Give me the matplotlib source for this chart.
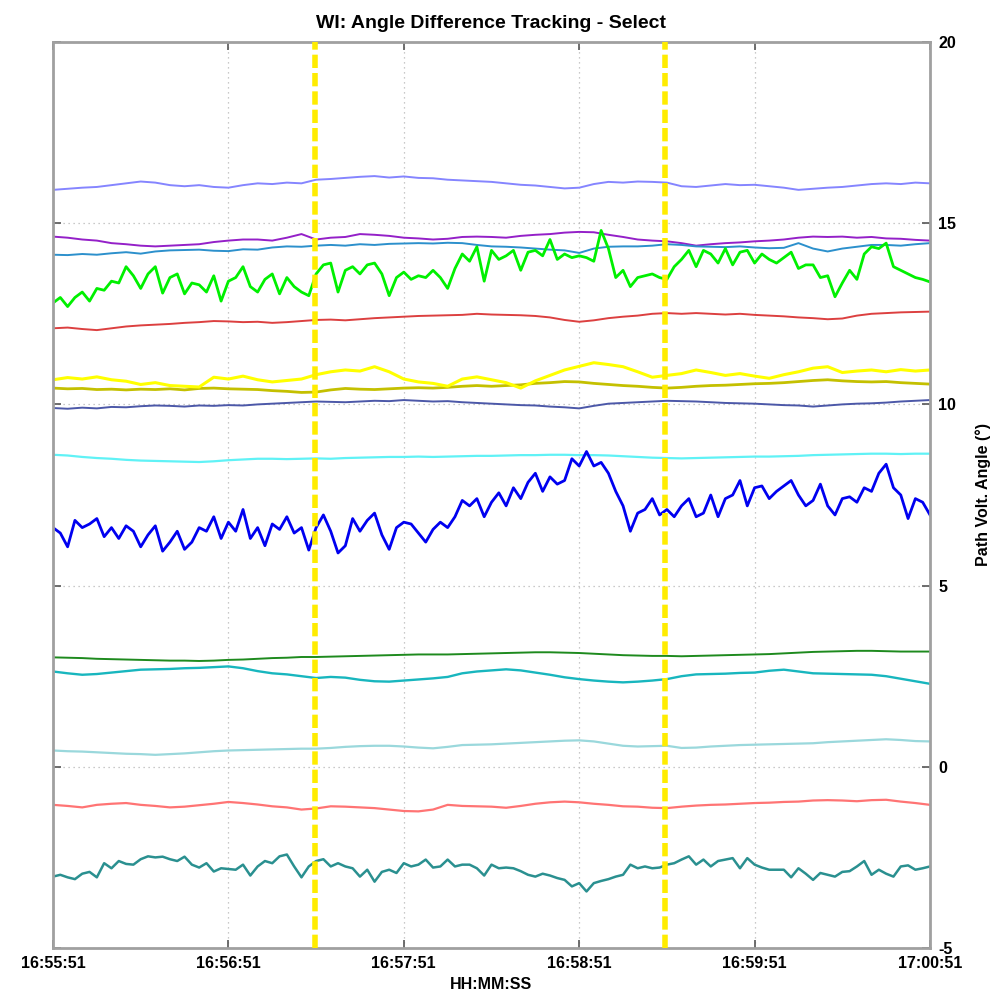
import matplotlib
matplotlib.use("Agg")
import numpy as np
import matplotlib.pyplot as plt
from matplotlib.ticker import FuncFormatter, MultipleLocator

plt.rcParams['font.family'] = ['Liberation Sans', 'DejaVu Sans']
plt.rcParams['axes.unicode_minus'] = False

# seconds after 16:55:51
t_start = 16 * 3600 + 55 * 60 + 51
t_coarse = np.arange(0, 301, 5)      # 5 s sampling
t_fine = np.arange(0, 300.1, 2.5)    # 2.5 s sampling
marker_times = [89.5, 209.5]

periwinkle = [15.92, 15.95, 15.98, 16.0, 16.05, 16.1, 16.15, 16.12, 16.05, 16.02, 16.05, 16.0, 15.98, 16.05, 16.1,
              16.08, 16.12, 16.1, 16.2, 16.22, 16.25, 16.28, 16.3, 16.26, 16.29, 16.25, 16.24, 16.2, 16.18, 16.16,
              16.14, 16.1, 16.06, 16.04, 16.0, 15.96, 15.98, 16.08, 16.14, 16.12, 16.15, 16.14, 16.12, 16.02, 16.0,
              16.04, 16.08, 16.05, 16.06, 16.02, 15.98, 15.92, 15.95, 15.98, 16.0, 16.04, 16.08, 16.1, 16.08, 16.12, 16.1]
purple = [14.63, 14.6, 14.55, 14.52, 14.45, 14.42, 14.38, 14.36, 14.38, 14.4, 14.42, 14.48, 14.52, 14.55, 14.55,
          14.52, 14.6, 14.7, 14.55, 14.6, 14.62, 14.7, 14.68, 14.65, 14.6, 14.58, 14.55, 14.57, 14.62, 14.63,
          14.62, 14.6, 14.65, 14.68, 14.7, 14.74, 14.76, 14.75, 14.68, 14.62, 14.55, 14.52, 14.5, 14.45, 14.38,
          14.42, 14.45, 14.47, 14.5, 14.52, 14.55, 14.6, 14.63, 14.62, 14.63, 14.6, 14.62, 14.58, 14.57, 14.54, 14.52]
steel = [14.13, 14.12, 14.15, 14.13, 14.17, 14.2, 14.16, 14.22, 14.25, 14.26, 14.27, 14.24, 14.23, 14.28, 14.27,
         14.33, 14.36, 14.35, 14.38, 14.4, 14.38, 14.42, 14.4, 14.43, 14.44, 14.45, 14.44, 14.46, 14.45, 14.4,
         14.36, 14.35, 14.33, 14.3, 14.27, 14.25, 14.18, 14.3, 14.35, 14.36, 14.36, 14.38, 14.42, 14.4, 14.36,
         14.35, 14.34, 14.36, 14.33, 14.31, 14.32, 14.45, 14.3, 14.22, 14.3, 14.35, 14.4, 14.4, 14.38, 14.42, 14.45]
green = [12.8, 12.95, 12.7, 12.95, 13.1, 12.85, 13.2, 13.15, 13.4, 13.35, 13.8, 13.55, 13.2, 13.6, 13.8,
         13.07, 13.5, 13.6, 13.05, 13.35, 13.3, 13.1, 13.55, 12.85, 13.4, 13.5, 13.8, 13.25, 13.1, 13.45,
         13.6, 13.05, 13.5, 13.25, 13.1, 13.0, 13.6, 13.85, 13.9, 13.1, 13.7, 13.8, 13.6, 13.85, 13.9,
         13.6, 13.0, 13.5, 13.65, 13.45, 13.55, 13.5, 13.7, 13.5, 13.2, 13.75, 14.15, 13.95, 14.35, 13.4,
         14.25, 14.0, 14.1, 14.25, 13.7, 14.2, 14.25, 14.1, 14.55, 14.0, 14.15, 14.05, 14.1, 14.05, 13.95,
         14.8, 14.3, 13.5, 13.7, 13.25, 13.5, 13.55, 13.6, 13.5, 13.45, 13.8, 14.0, 14.25, 13.8, 14.25,
         14.15, 13.9, 14.3, 13.85, 14.2, 14.25, 13.9, 14.15, 14.0, 13.9, 14.05, 14.2, 13.75, 13.85, 13.85,
         13.5, 13.55, 12.97, 13.35, 13.7, 13.45, 14.15, 14.35, 14.3, 14.45, 13.8, 13.7, 13.6, 13.5, 13.45, 13.38]
red = [12.1, 12.12, 12.08, 12.05, 12.1, 12.15, 12.18, 12.2, 12.22, 12.25, 12.27, 12.3, 12.29, 12.27, 12.28,
       12.25, 12.27, 12.3, 12.33, 12.34, 12.32, 12.35, 12.38, 12.4, 12.42, 12.44, 12.45, 12.46, 12.47, 12.5,
       12.48, 12.47, 12.46, 12.44, 12.4, 12.33, 12.28, 12.32, 12.38, 12.42, 12.45, 12.5, 12.52, 12.5, 12.52,
       12.5, 12.48, 12.5, 12.47, 12.45, 12.43, 12.4, 12.38, 12.35, 12.37, 12.45, 12.5, 12.52, 12.54, 12.55, 12.56]
yellow = [10.68, 10.74, 10.7, 10.76, 10.68, 10.64, 10.55, 10.6, 10.52, 10.5, 10.48, 10.75, 10.7, 10.78, 10.68,
          10.62, 10.66, 10.7, 10.82, 10.9, 10.95, 10.92, 11.04, 10.9, 10.7, 10.62, 10.58, 10.5, 10.7, 10.76,
          10.68, 10.6, 10.45, 10.65, 10.8, 10.95, 11.05, 11.15, 11.1, 11.04, 10.9, 10.75, 10.8, 10.85, 10.95,
          10.88, 10.8, 10.85, 10.78, 10.72, 10.82, 10.9, 11.0, 11.04, 10.88, 10.92, 10.95, 10.9, 10.96, 10.92, 10.95]
olive = [10.45, 10.43, 10.44, 10.41, 10.42, 10.4, 10.42, 10.41, 10.43, 10.4, 10.44, 10.45, 10.43, 10.42, 10.41,
         10.38, 10.36, 10.33, 10.34, 10.4, 10.44, 10.42, 10.41, 10.43, 10.45, 10.46, 10.45, 10.47, 10.5, 10.52,
         10.5, 10.52, 10.54, 10.58, 10.6, 10.63, 10.62, 10.58, 10.55, 10.52, 10.5, 10.47, 10.45, 10.47, 10.5,
         10.52, 10.53, 10.55, 10.57, 10.58, 10.6, 10.63, 10.66, 10.68, 10.65, 10.63, 10.62, 10.63, 10.6, 10.58, 10.56]
slate = [9.9, 9.88, 9.91, 9.89, 9.93, 9.92, 9.95, 9.97, 9.96, 9.94, 9.97, 9.96, 9.98, 9.97, 10.0,
         10.02, 10.04, 10.06, 10.08, 10.07, 10.06, 10.08, 10.1, 10.09, 10.12, 10.1, 10.08, 10.09, 10.06, 10.04,
         10.02, 10.0, 9.98, 9.97, 9.94, 9.92, 9.89, 9.96, 10.02, 10.04, 10.06, 10.08, 10.1, 10.09, 10.08,
         10.06, 10.04, 10.03, 10.02, 10.0, 9.98, 9.97, 9.94, 9.97, 10.0, 10.02, 10.03, 10.05, 10.08, 10.1, 10.12]
cyan = [8.61, 8.59, 8.55, 8.52, 8.5, 8.47, 8.45, 8.44, 8.43, 8.42, 8.41, 8.43, 8.46, 8.48, 8.5,
        8.5, 8.49, 8.5, 8.51, 8.5, 8.52, 8.53, 8.54, 8.55, 8.55, 8.56, 8.55, 8.56, 8.57, 8.58,
        8.58, 8.59, 8.6, 8.6, 8.61, 8.61, 8.6, 8.6, 8.59, 8.57, 8.55, 8.53, 8.52, 8.51, 8.52,
        8.53, 8.54, 8.55, 8.56, 8.56, 8.57, 8.58, 8.6, 8.61, 8.62, 8.63, 8.64, 8.64, 8.63, 8.64, 8.64]
blue = [6.6, 6.45, 6.07, 6.8, 6.6, 6.7, 6.85, 6.35, 6.6, 6.3, 6.65, 6.5, 6.07, 6.4, 6.65,
        5.95, 6.2, 6.5, 6.0, 6.2, 6.6, 6.5, 6.9, 6.3, 6.75, 6.5, 7.1, 6.3, 6.6, 6.1,
        6.7, 6.55, 6.9, 6.45, 6.6, 5.98, 6.6, 6.95, 6.5, 5.9, 6.1, 6.85, 6.5, 6.8, 7.0,
        6.4, 6.0, 6.6, 6.75, 6.7, 6.45, 6.2, 6.55, 6.75, 6.6, 6.9, 7.35, 7.2, 7.4, 6.9,
        7.3, 7.56, 7.2, 7.7, 7.4, 7.85, 8.1, 7.6, 8.0, 7.8, 7.9, 8.5, 8.3, 8.7, 8.3,
        8.4, 8.1, 7.6, 7.2, 6.5, 7.0, 7.1, 7.4, 6.95, 7.1, 6.9, 7.2, 7.4, 6.9, 7.0,
        7.5, 6.9, 7.4, 7.5, 7.9, 7.2, 7.7, 7.75, 7.4, 7.6, 7.75, 7.9, 7.5, 7.2, 7.35,
        7.8, 7.2, 6.95, 7.4, 7.45, 7.3, 7.7, 7.6, 8.1, 8.35, 7.7, 7.5, 6.85, 7.4, 7.3, 6.95]
dark_green = [3.02, 3.01, 3.0, 2.98, 2.97, 2.96, 2.95, 2.94, 2.93, 2.93, 2.92, 2.93, 2.95, 2.96, 2.98,
              3.0, 3.01, 3.03, 3.03, 3.04, 3.05, 3.06, 3.07, 3.08, 3.09, 3.1, 3.1, 3.1, 3.11, 3.12,
              3.13, 3.14, 3.15, 3.16, 3.16, 3.15, 3.14, 3.12, 3.1, 3.08, 3.07, 3.06, 3.06, 3.05, 3.06,
              3.07, 3.08, 3.09, 3.1, 3.11, 3.13, 3.15, 3.17, 3.18, 3.19, 3.2, 3.2, 3.19, 3.18, 3.18, 3.18]
teal = [2.63, 2.58, 2.54, 2.56, 2.6, 2.64, 2.68, 2.69, 2.7, 2.72, 2.73, 2.75, 2.77, 2.72, 2.64,
        2.58, 2.55, 2.5, 2.45, 2.48, 2.46, 2.4, 2.36, 2.35, 2.38, 2.41, 2.44, 2.48, 2.58, 2.63,
        2.66, 2.69, 2.66, 2.6, 2.54, 2.47, 2.42, 2.38, 2.35, 2.33, 2.35, 2.38, 2.42, 2.5, 2.55,
        2.56, 2.57, 2.59, 2.6, 2.65, 2.68, 2.63, 2.58, 2.57, 2.56, 2.55, 2.54, 2.5, 2.43, 2.36, 2.29]
pale_cyan = [0.45, 0.43, 0.42, 0.4, 0.38, 0.36, 0.35, 0.33, 0.35, 0.37, 0.4, 0.43, 0.45, 0.46, 0.47,
             0.48, 0.49, 0.5, 0.5, 0.52, 0.55, 0.57, 0.58, 0.58, 0.56, 0.53, 0.51, 0.55, 0.6, 0.61,
             0.62, 0.64, 0.66, 0.68, 0.7, 0.72, 0.73, 0.7, 0.64, 0.58, 0.56, 0.57, 0.58, 0.52, 0.53,
             0.56, 0.58, 0.6, 0.61, 0.62, 0.63, 0.64, 0.65, 0.68, 0.7, 0.72, 0.74, 0.76, 0.74, 0.71, 0.7]
salmon = [-1.05, -1.08, -1.12, -1.05, -1.02, -1.0, -1.05, -1.08, -1.12, -1.1, -1.06, -1.02, -0.97, -1.0, -1.04,
          -1.09, -1.12, -1.18, -1.15, -1.09, -1.1, -1.12, -1.14, -1.18, -1.22, -1.23, -1.18, -1.05, -1.08, -1.09,
          -1.1, -1.13, -1.08, -1.02, -0.98, -0.96, -0.98, -1.02, -1.05, -1.09, -1.1, -1.13, -1.14, -1.1, -1.07,
          -1.05, -1.04, -1.02, -1.0, -0.99, -0.97, -0.96, -0.93, -0.92, -0.93, -0.95, -0.92, -0.91, -0.96, -1.0, -1.05]
dark_teal = [-3.03, -2.98, -3.05, -3.1, -2.95, -2.9, -3.05, -2.66, -2.8, -2.6, -2.68, -2.7, -2.55, -2.47, -2.5,
             -2.48, -2.55, -2.6, -2.48, -2.7, -2.78, -2.66, -2.89, -2.8, -2.82, -2.84, -2.7, -3.0, -2.75, -2.6,
             -2.66, -2.47, -2.42, -2.75, -3.05, -2.75, -2.6, -2.55, -2.75, -2.66, -2.75, -2.8, -3.03, -2.84, -3.17,
             -2.9, -2.84, -2.93, -2.66, -2.75, -2.7, -2.56, -2.78, -2.75, -2.56, -2.75, -2.7, -2.7, -2.8, -3.0,
             -2.7, -2.8, -2.78, -2.8, -2.88, -2.98, -3.03, -2.95, -3.0, -3.07, -3.12, -3.3, -3.21, -3.44, -3.21,
             -3.15, -3.1, -3.03, -2.98, -2.7, -2.8, -2.75, -2.8, -2.78, -2.7, -2.66, -2.56, -2.47, -2.7, -2.56,
             -2.75, -2.6, -2.56, -2.52, -2.8, -2.52, -2.7, -2.78, -2.84, -2.84, -2.84, -3.05, -2.8, -2.95, -3.12,
             -2.93, -2.98, -3.03, -2.9, -2.88, -2.75, -2.6, -2.98, -2.84, -2.95, -3.03, -2.75, -2.72, -2.84, -2.8, -2.75]

# (values, time base, colour, line width)
traces = [
    (periwinkle, t_coarse, '#8585ff', 1.4),
    (purple, t_coarse, '#9420c8', 1.4),
    (steel, t_coarse, '#2c90cc', 1.4),
    (green, t_fine, '#00f000', 2.0),
    (red, t_coarse, '#dc4040', 1.4),
    (olive, t_coarse, '#c4c000', 2.0),
    (yellow, t_coarse, '#ffff00', 2.2),
    (slate, t_coarse, '#4c58a8', 1.4),
    (cyan, t_coarse, '#60f2f6', 1.6),
    (blue, t_fine, '#0000f0', 2.0),
    (dark_green, t_coarse, '#1e8a1e', 1.4),
    (teal, t_coarse, '#18b6be', 1.7),
    (pale_cyan, t_coarse, '#9ad8dc', 1.6),
    (salmon, t_coarse, '#ff7474', 1.6),
    (dark_teal, t_fine, '#2a9090', 1.8),
]

fig = plt.figure(figsize=(9.94, 9.99), dpi=100)
ax = fig.add_axes([53 / 994, 1 - 948 / 999, 877 / 994, 906 / 999])

for vals, tt, col, lw in traces:
    ax.plot(tt, vals, color=col, lw=lw, solid_joinstyle='round')

for tm in marker_times:
    ax.axvline(tm, color='#ffec00', lw=4.0, dashes=(2.4, 0.9), zorder=5)

ax.set_xlim(0, 300)
ax.set_ylim(-5, 20)
ax.xaxis.set_major_locator(MultipleLocator(60))
ax.yaxis.set_major_locator(MultipleLocator(5))


def hhmmss(x, pos):
    s = int(round(t_start + x))
    return '%02d:%02d:%02d' % (s // 3600, (s % 3600) // 60, s % 60)


ax.xaxis.set_major_formatter(FuncFormatter(hhmmss))
ax.grid(True, color='#b8b8b8', linestyle=(0, (1, 3)), linewidth=0.9)

ax.yaxis.tick_right()
ax.yaxis.set_label_position('right')
ax.tick_params(axis='both', which='both', direction='in', length=6, width=1.2,
               color='#555555', top=True, bottom=True, left=True, right=True,
               labelsize=11.5, pad=6)
for lab in ax.get_xticklabels() + ax.get_yticklabels():
    lab.set_fontweight('bold')

for sp in ax.spines.values():
    sp.set_color('#a0a0a0')
    sp.set_linewidth(2)

ax.set_title('WI: Angle Difference Tracking - Select', fontsize=14, fontweight='bold', pad=10)
ax.set_xlabel('HH:MM:SS', fontsize=11.5, fontweight='bold', labelpad=4)
ax.set_ylabel('Path Volt. Angle (°)', fontsize=11.5, fontweight='bold', labelpad=14)

fig.savefig('out.png', dpi=100, facecolor='white')
